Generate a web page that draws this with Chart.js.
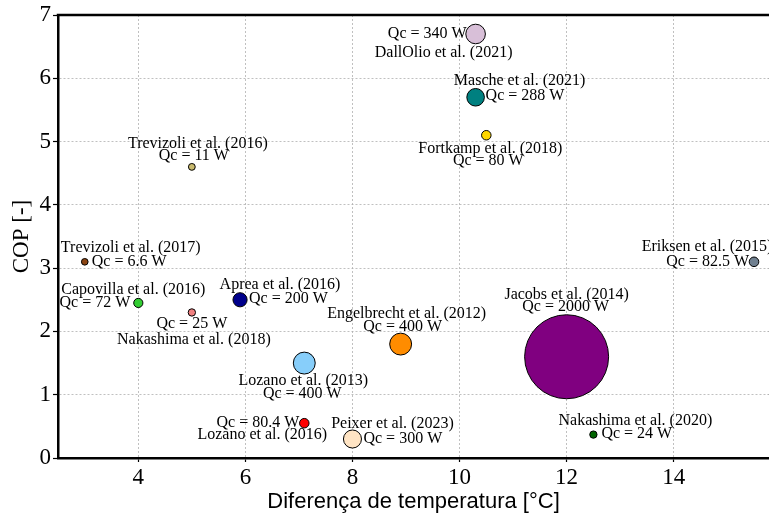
<!DOCTYPE html>
<html>
<head>
<meta charset="utf-8">
<script src="https://cdn.jsdelivr.net/npm/chart.js@4.4.0/dist/chart.umd.min.js"></script>
<style>
  html, body { margin: 0; padding: 0; background: #fff; }
  canvas { display: block; }
</style>
</head>
<body>
<canvas id="copChart" width="769" height="515"></canvas>
<script>
// Datos
const autores = [
    'DallOlio et al. (2021)', 'Masche et al. (2021)', 'Fortkamp et al. (2018)',
    'Trevizoli et al. (2016)', 'Trevizoli et al. (2017)', 'Capovilla et al. (2016)',
    'Nakashima et al. (2018)', 'Aprea et al. (2016)', 'Lozano et al. (2013)',
    'Engelbrecht et al. (2012)', 'Jacobs et al. (2014)', 'Nakashima et al. (2020)',
    'Lozano et al. (2016)', 'Peixer et al. (2023)', 'Eriksen et al. (2015)'
];
const deltaT = [10.3, 10.3, 10.5, 5, 3, 4, 5, 5.9, 7.1, 8.9, 12, 12.5, 7.1, 8, 15.5];
const cop = [6.7, 5.7, 5.1, 4.6, 3.1, 2.45, 2.3, 2.5, 1.5, 1.8, 1.6, 0.37, 0.55, 0.3, 3.1];
const qc = [340, 288, 80, 11, 6.6, 72, 25, 200, 400, 400, 2000, 24, 80.4, 300, 82.5];
const xTicks = [4, 6, 8, 10, 12, 14];
const yTicks = [0, 1, 2, 3, 4, 5, 6, 7];

const colores = [
    '#D8BFD8', '#008080', '#FFD700', '#C9BA6E', '#8B4513', '#32CD32',
    '#F08080', '#00008B', '#87CEFA', '#FF8C00', '#800080', '#006400',
    '#FF0000', '#FFE4C4', '#708090'
];

// Posición de las etiquetas respecto al punto (px): [dx, dy, align]
const layoutNombre = [
    [-32, 19, 'center'], [44, -16, 'center'], [4, 14, 'center'],
    [6, -23, 'center'], [46, -14, 'center'], [-5, -13, 'center'],
    [2, 27, 'center'], [40, -15, 'center'], [-1, 18, 'center'],
    [6, -30, 'center'], [0, -62, 'center'], [42, -14, 'center'],
    [-42, 12, 'center'], [40, -15, 'center'], [-47, -15, 'center']
];
const layoutQc = [
    [-9, 0, 'right'], [10, -1, 'left'], [2, 26, 'center'],
    [2, -11, 'center'], [7, 0, 'left'], [-8, 0, 'right'],
    [0, 11, 'center'], [9, -1, 'left'], [-2, 31, 'center'],
    [2, -17, 'center'], [-1, -50, 'center'], [8, -1, 'left'],
    [-5, 0, 'right'], [11, 0, 'left'], [-5, 0, 'right']
];

function radioBurbuja(q) {
    return 3.2 + 0.0194 * q;
}

const etiquetasPlugin = {
    id: 'etiquetas',
    afterDatasetsDraw(chart) {
        const ctx = chart.ctx;
        const area = chart.chartArea;
        ctx.save();
        // borde superior
        ctx.strokeStyle = '#000';
        ctx.lineWidth = 2.5;
        ctx.beginPath();
        ctx.moveTo(area.left - 1.25, area.top);
        ctx.lineTo(area.right, area.top);
        ctx.stroke();

        ctx.font = '16px "Liberation Serif", serif';
        ctx.fillStyle = '#000';
        ctx.textBaseline = 'middle';
        const meta = chart.getDatasetMeta(0);
        meta.data.forEach((pt, i) => {
            const n = layoutNombre[i];
            ctx.textAlign = n[2];
            ctx.fillText(autores[i], pt.x + n[0], pt.y + n[1]);
            const q = layoutQc[i];
            ctx.textAlign = q[2];
            ctx.fillText('Qc = ' + qc[i] + ' W', pt.x + q[0], pt.y + q[1]);
        });
        ctx.restore();
    }
};

const ctx = document.getElementById('copChart').getContext('2d');
new Chart(ctx, {
    type: 'bubble',
    data: {
        datasets: [{
            data: deltaT.map((x, i) => ({ x: x, y: cop[i], r: radioBurbuja(qc[i]) })),
            backgroundColor: colores,
            borderColor: '#000',
            borderWidth: 1
        }]
    },
    options: {
        responsive: false,
        devicePixelRatio: 1,
        animation: false,
        layout: { autoPadding: false, padding: { top: 15, right: 0, left: 0, bottom: 0 } },
        plugins: {
            legend: { display: false },
            tooltip: { enabled: false }
        },
        scales: {
            x: {
                type: 'linear',
                min: 2.5,
                max: 15.78,
                afterBuildTicks: scale => { scale.ticks = xTicks.map(v => ({ value: v })); },
                afterFit: scale => {
                    scale.height = 57;
                    scale.paddingLeft = 0;
                    scale.paddingRight = 0;
                },
                ticks: {
                    font: { family: '"Liberation Serif", serif', size: 23 },
                    color: '#000',
                    padding: 2
                },
                grid: {
                    color: '#b0b0b0',
                    lineWidth: 0.8,
                    tickLength: 4,
                    tickColor: '#000',
                    tickWidth: 1.2,
                    tickBorderDash: []
                },
                border: { display: true, color: '#000', width: 2.5, dash: [2, 2] },
                title: {
                    display: true,
                    text: 'Diferença de temperatura [°C]',
                    font: { family: '"Liberation Sans", Arial, sans-serif', size: 22 },
                    color: '#000',
                    padding: { top: 2, bottom: 0 }
                }
            },
            y: {
                type: 'linear',
                min: 0,
                max: 7,
                afterBuildTicks: scale => { scale.ticks = yTicks.map(v => ({ value: v })); },
                afterFit: scale => {
                    scale.width = 58;
                    scale.paddingTop = 0;
                    scale.paddingBottom = 0;
                },
                ticks: {
                    font: { family: '"Liberation Serif", serif', size: 23 },
                    color: '#000',
                    padding: 2
                },
                grid: {
                    color: '#b0b0b0',
                    lineWidth: 0.8,
                    tickLength: 5,
                    tickColor: '#000',
                    tickWidth: 1.2,
                    tickBorderDash: []
                },
                border: { display: true, color: '#000', width: 2.5, dash: [2, 2] },
                title: {
                    display: true,
                    text: 'COP [-]',
                    font: { family: '"Liberation Serif", serif', size: 23 },
                    color: '#000',
                    padding: { top: 8, bottom: 0 }
                }
            }
        }
    },
    plugins: [etiquetasPlugin]
});
</script>
</body>
</html>
